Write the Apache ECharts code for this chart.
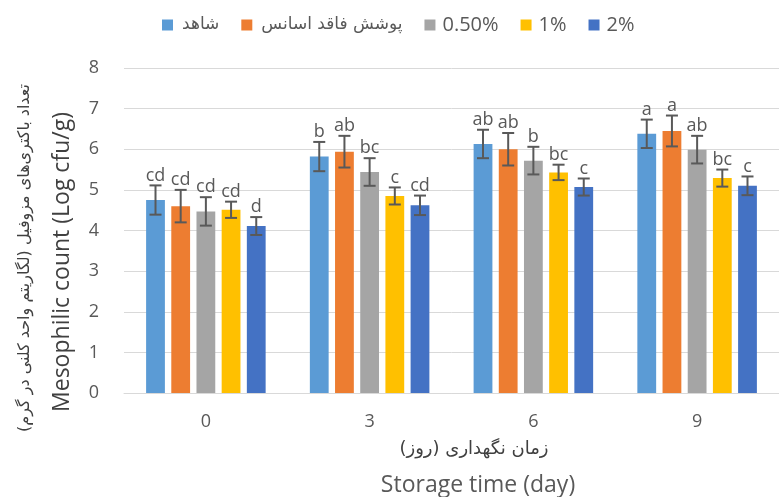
<!DOCTYPE html>
<html>
<head>
<meta charset="utf-8">
<script src="https://cdn.jsdelivr.net/npm/echarts@6/dist/echarts.min.js"></script>
<style>
  html, body { margin: 0; padding: 0; background: #fff; }
  #chart { width: 779px; height: 497px; }
</style>
</head>
<body>
<div id="chart"></div>
<script>
// Storage days on the category axis
const days = ['0', '3', '6', '9'];

// Treatments (legend order)
const seriesNames = ['شاهد', 'پوشش فاقد اسانس', '0.50%', '1%', '2%'];
const seriesColors = ['#5B9BD5', '#ED7D31', '#A5A5A5', '#FFC000', '#4472C4'];

// Mean mesophilic counts (Log cfu/g)
const control   = [4.75, 5.82, 6.13, 6.38];
const coating   = [4.60, 5.94, 6.00, 6.45];
const ess050    = [4.47, 5.44, 5.72, 5.99];
const ess1      = [4.51, 4.85, 5.43, 5.29];
const ess2      = [4.11, 4.62, 5.07, 5.10];

// Standard deviations
const controlErr = [0.36, 0.36, 0.35, 0.35];
const coatingErr = [0.40, 0.39, 0.40, 0.38];
const ess050Err  = [0.35, 0.34, 0.34, 0.34];
const ess1Err    = [0.20, 0.21, 0.19, 0.21];
const ess2Err    = [0.22, 0.24, 0.21, 0.23];

// Significance letters
const controlSig = ['cd', 'b', 'ab', 'a'];
const coatingSig = ['cd', 'ab', 'ab', 'a'];
const ess050Sig  = ['cd', 'bc', 'b', 'ab'];
const ess1Sig    = ['cd', 'c', 'bc', 'bc'];
const ess2Sig    = ['d', 'cd', 'c', 'c'];

// Y axis ticks
const yMin = 0, yMax = 8, yStep = 1;

const values = [control, coating, ess050, ess1, ess2];
const errors = [controlErr, coatingErr, ess050Err, ess1Err, ess2Err];
const letters = [controlSig, coatingSig, ess050Sig, ess1Sig, ess2Sig];

const CAT_GAP = 0.27;
const BAR_GAP = 0.34;
const N = seriesNames.length;
const latinFont = '"Open Sans", sans-serif';
const faFont = '"DejaVu Sans", sans-serif';

function errorRenderer(si) {
  return function (params, api) {
    const ci = api.value(0);
    const v = api.value(1);
    const e = api.value(2);
    const catW = api.size([1, 0])[0];
    const bw = catW * (1 - CAT_GAP) / (N + (N - 1) * BAR_GAP);
    const step = bw * (1 + BAR_GAP);
    const cx = api.coord([ci, 0])[0] + (si - (N - 1) / 2) * step;
    const top = api.coord([ci, v + e])[1];
    const bot = api.coord([ci, v - e])[1];
    const cap = 6;
    const st = { stroke: '#595959', lineWidth: 2 };
    return {
      type: 'group',
      children: [
        { type: 'line', shape: { x1: cx, y1: top, x2: cx, y2: bot }, style: st },
        { type: 'line', shape: { x1: cx - cap, y1: top, x2: cx + cap, y2: top }, style: st },
        { type: 'line', shape: { x1: cx - cap, y1: bot, x2: cx + cap, y2: bot }, style: st },
        {
          type: 'text',
          x: cx, y: top - 1,
          style: {
            text: letters[si][params.dataIndex],
            fill: '#595959',
            fontSize: 18,
            fontFamily: latinFont,
            align: 'center',
            verticalAlign: 'bottom'
          }
        }
      ]
    };
  };
}

const series = [];
for (let i = 0; i < N; i++) {
  series.push({
    name: seriesNames[i],
    type: 'bar',
    data: values[i],
    barGap: (BAR_GAP * 100) + '%',
    barCategoryGap: (CAT_GAP * 100) + '%',
    itemStyle: { color: seriesColors[i] },
    emphasis: { disabled: true }
  });
}
for (let i = 0; i < N; i++) {
  series.push({
    type: 'custom',
    renderItem: errorRenderer(i),
    data: values[i].map((v, k) => [k, v, errors[i][k]]),
    encode: { x: 0, y: 1 },
    z: 10,
    silent: true
  });
}

const chart = echarts.init(document.getElementById('chart'), null, { renderer: 'canvas' });
chart.setOption({
  animation: false,
  backgroundColor: '#ffffff',
  color: seriesColors,
  legend: {
    data: seriesNames,
    left: 157,
    top: 10,
    icon: 'rect',
    itemWidth: 11,
    itemHeight: 11,
    itemGap: 22,
    formatter: function (name) {
      return /[\u0600-\u06FF]/.test(name) ? '{fa|' + name + '}' : '{en|' + name + '}';
    },
    textStyle: {
      color: '#595959',
      rich: {
        fa: { fontFamily: faFont, fontSize: 17, color: '#595959', padding: [0, 0, 0, 4] },
        en: { fontFamily: latinFont, fontSize: 20, color: '#595959', padding: [0, 0, 0, 2] }
      }
    }
  },
  grid: { left: 124, top: 68, width: 664, height: 325, containLabel: false },
  xAxis: {
    type: 'category',
    data: days,
    axisTick: { show: false },
    axisLine: { lineStyle: { color: '#d9d9d9', width: 1 } },
    axisLabel: { color: '#595959', fontSize: 18, fontFamily: latinFont, margin: 20 }
  },
  yAxis: {
    type: 'value',
    min: yMin, max: yMax, interval: yStep,
    axisLine: { show: false },
    axisTick: { show: false },
    splitLine: { lineStyle: { color: '#d9d9d9', width: 1 } },
    axisLabel: { color: '#595959', fontSize: 18, fontFamily: latinFont, margin: 25 }
  },
  graphic: [
    {
      type: 'text', x: 25, y: 258, rotation: Math.PI / 2,
      style: {
        text: 'تعداد باکتری‌های مزوفیل (لگاریتم واحد کلنی در گرم)',
        fontFamily: faFont, fontSize: 16, fill: '#404040',
        align: 'center', verticalAlign: 'middle'
      }
    },
    {
      type: 'text', x: 62, y: 262, rotation: Math.PI / 2,
      style: {
        text: 'Mesophilic count (Log cfu/g)',
        fontFamily: latinFont, fontSize: 23, fill: '#404040',
        align: 'center', verticalAlign: 'middle'
      }
    },
    {
      type: 'text', x: 474, y: 449,
      style: {
        text: 'زمان نگهداری (روز)',
        fontFamily: faFont, fontSize: 18, fill: '#404040',
        align: 'center', verticalAlign: 'middle'
      }
    },
    {
      type: 'text', x: 478, y: 485,
      style: {
        text: 'Storage time (day)',
        fontFamily: latinFont, fontSize: 23, fill: '#595959',
        align: 'center', verticalAlign: 'middle'
      }
    }
  ],
  series: series
});
</script>
</body>
</html>
